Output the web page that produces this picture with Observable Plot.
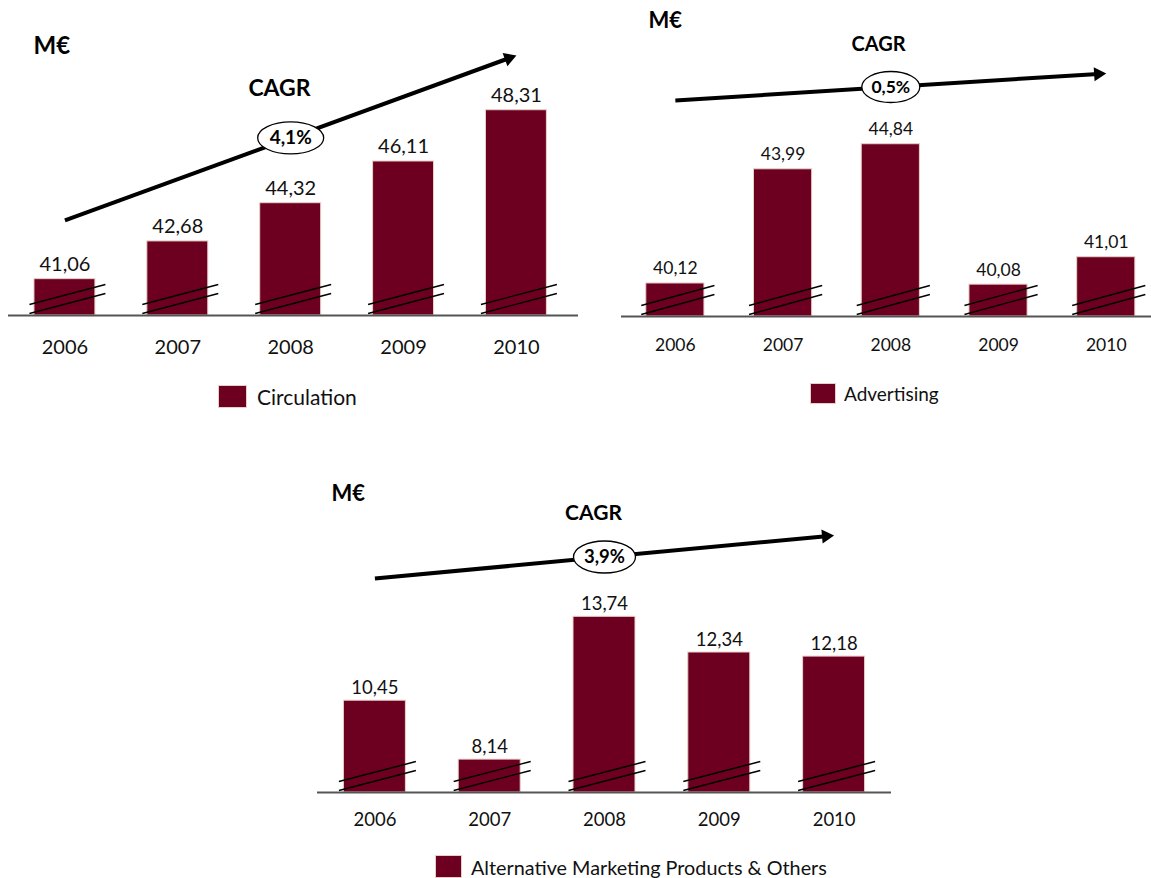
<!DOCTYPE html>
<html><head><meta charset="utf-8">
<script src="https://cdn.jsdelivr.net/npm/d3@7"></script>
<script src="https://cdn.jsdelivr.net/npm/@observablehq/plot@0.6"></script>
<style>
body{margin:0;background:#fff;font-family:Lato,sans-serif;}
#root{position:relative;width:1151px;height:878px;overflow:hidden;background:#fff;}
.chart{position:absolute;}
.legend{position:absolute;display:flex;align-items:center;color:#111;white-space:nowrap;}
.legend .sw{background:#6d0020;border:1px solid #e6cfc6;box-sizing:border-box;}
</style></head><body><div id="root"></div>
<script>
// ---- data ----
const years = [2006, 2007, 2008, 2009, 2010];
const circulation = [41.06, 42.68, 44.32, 46.11, 48.31];
const advertising = [40.12, 43.99, 44.84, 40.08, 41.01];
const alternative = [10.45, 8.14, 13.74, 12.34, 12.18];
const seriesNames = ["Circulation", "Advertising", "Alternative Marketing Products & Others"];
const cagrLabels = ["4,1%", "0,5%", "3,9%"];
const unitLabel = "M€";
const cagrTitle = "CAGR";

// ---- layout / style ----
const BAR = "#6d0020";
const fmt = v => d3.format(".2f")(v).replace(".", ",");

const charts = [
  {values: circulation, name: seriesNames[0], cagr: cagrLabels[0],
   left: 0, top: 0, width: 590, height: 370, ml: 8, mr: 12, mb: 55,
   xDomain: [2005.5, 2010.55], yDomain: [39.5, 39.5 + 315 / 23.3],
   arrowY: [43.58, 50.66], fs: 20, yearDy: 32, valDy: -8,
   unit: {fs: 24, dx: 25, dy: 36}, title: {fs: 23, dx: -14, dy: 88},
   pct: {fs: 19, rx: 33, ry: 16},
   legend: {left: 218, top: 385, w: 29, h: 23, fs: 21, gap: 10}},
  {values: advertising, name: seriesNames[1], cagr: cagrLabels[1],
   left: 600, top: 0, width: 551, height: 370, ml: 21, mr: 0, mb: 54,
   xDomain: [2005.5, 2010.42], yDomain: [39.0, 39.0 + 316 / 29.5],
   arrowY: [46.32, 47.24], fs: 17.5, yearDy: 29, valDy: -9,
   unit: {fs: 22, dx: 27, dy: 12}, title: {fs: 20, dx: -8, dy: 44},
   pct: {fs: 17.5, rx: 29, ry: 15.5},
   legend: {left: 810, top: 383, w: 26, h: 21, fs: 19, gap: 8}},
  {values: alternative, name: seriesNames[2], cagr: cagrLabels[2],
   left: 300, top: 470, width: 600, height: 370, ml: 17, mr: 9, mb: 48,
   xDomain: [2005.5, 2010.5], yDomain: [6.85, 6.85 + 322 / 25.5],
   arrowY: [15.24, 16.93], fs: 18.5, yearDy: 28, valDy: -7,
   unit: {fs: 22, dx: 14, dy: 15}, title: {fs: 21, dx: -11, dy: 43},
   pct: {fs: 18.5, rx: 31, ry: 16},
   legend: {left: 435, top: 855, w: 27, h: 23, fs: 19.8, gap: 9}}
];

function ellipseSymbol(rx, ry) {
  const k = 0.5523;
  return {draw(ctx) {
    ctx.moveTo(rx, 0);
    ctx.bezierCurveTo(rx, ry * k, rx * k, ry, 0, ry);
    ctx.bezierCurveTo(-rx * k, ry, -rx, ry * k, -rx, 0);
    ctx.bezierCurveTo(-rx, -ry * k, -rx * k, -ry, 0, -ry);
    ctx.bezierCurveTo(rx * k, -ry, rx, -ry * k, rx, 0);
    ctx.closePath();
  }};
}

const root = document.getElementById("root");

for (const c of charts) {
  const data = years.map((year, i) => ({year, value: c.values[i]}));
  const lo = c.yDomain[0];
  const base = c.height - c.mb;
  const xs = d3.scaleLinear(c.xDomain, [c.ml, c.width - c.mr]);
  const ys = d3.scaleLinear(c.yDomain, [base, 0]);
  const ppy = (c.width - c.mr - c.ml) / (c.xDomain[1] - c.xDomain[0]);
  const hw = 0.27;

  // break marks (two parallel slanted lines per bar)
  const breaks = years.flatMap(year => [[11, 31], [2, 22]].map(([a, b]) => ({
    x1: year - hw - 5 / ppy, x2: year + hw + 10 / ppy,
    y1: ys.invert(base - a), y2: ys.invert(base - b)
  })));

  // CAGR arrow
  const first = years[0], last = years[years.length - 1];
  const p0 = [xs(first), ys(c.arrowY[0])], p1 = [xs(last), ys(c.arrowY[1])];
  const L = Math.hypot(p1[0] - p0[0], p1[1] - p0[1]);
  const u = [(p1[0] - p0[0]) / L, (p1[1] - p0[1]) / L];
  const headR = 5.2;
  const hy = headR * Math.sqrt(Math.PI / (3 * Math.sqrt(3)));
  const hc = [p1[0] - u[0] * 2 * hy, p1[1] - u[1] * 2 * hy];
  const head = {x: xs.invert(hc[0]), y: ys.invert(hc[1])};
  const angle = Math.atan2(u[1], u[0]) * 180 / Math.PI + 90;
  const midYear = years[Math.floor(years.length / 2)];
  const mid = {x: midYear, y: c.arrowY[0] + (c.arrowY[1] - c.arrowY[0]) * (midYear - first) / (last - first)};

  const plot = Plot.plot({
    width: c.width, height: c.height,
    marginLeft: c.ml, marginRight: c.mr, marginTop: 0, marginBottom: c.mb,
    x: {domain: c.xDomain, axis: null},
    y: {domain: c.yDomain, axis: null},
    style: {fontFamily: "Lato, sans-serif", background: "transparent", overflow: "visible"},
    marks: [
      Plot.rectY(data, {x1: d => d.year - hw, x2: d => d.year + hw, y1: lo, y2: "value",
        fill: BAR, stroke: "#e8d2c8", strokeWidth: 1}),
      Plot.link(breaks, {x1: "x1", x2: "x2", y1: "y1", y2: "y2", stroke: "#000", strokeWidth: 1.4}),
      Plot.ruleY([lo], {stroke: "#555", strokeWidth: 2}),
      Plot.text(data, {x: "year", y: "value", text: d => fmt(d.value), lineAnchor: "bottom",
        dy: c.valDy, fontSize: c.fs, fill: "#111"}),
      Plot.text(data, {x: "year", text: d => String(d.year), frameAnchor: "bottom",
        lineAnchor: "middle", dy: c.yearDy, fontSize: c.fs, fill: "#111"}),
      Plot.link([{x1: first, y1: c.arrowY[0], x2: head.x, y2: head.y}],
        {x1: "x1", y1: "y1", x2: "x2", y2: "y2", stroke: "#000", strokeWidth: 4}),
      Plot.dot([head], {x: "x", y: "y", symbol: "triangle", r: headR, fill: "#000", stroke: "none", rotate: angle}),
      Plot.dot([mid], {x: "x", y: "y", r: 1, symbol: ellipseSymbol(c.pct.rx, c.pct.ry),
        fill: "#fff", stroke: "#000", strokeWidth: 1.3}),
      Plot.text([mid], {x: "x", y: "y", text: () => c.cagr, fontWeight: "bold",
        fontSize: c.pct.fs, fill: "#000", lineAnchor: "middle"}),
      Plot.text([unitLabel], {frameAnchor: "top-left", text: d => d, dx: c.unit.dx, dy: c.unit.dy,
        lineAnchor: "top", fontWeight: "bold", fontSize: c.unit.fs, fill: "#000"}),
      Plot.text([cagrTitle], {frameAnchor: "top", text: d => d, dx: c.title.dx, dy: c.title.dy,
        lineAnchor: "middle", fontWeight: "bold", fontSize: c.title.fs, fill: "#000"})
    ]
  });
  const div = document.createElement("div");
  div.className = "chart";
  div.style.left = c.left + "px";
  div.style.top = c.top + "px";
  div.style.width = c.width + "px";
  div.style.height = c.height + "px";
  div.appendChild(plot);
  root.appendChild(div);

  const lg = document.createElement("div");
  lg.className = "legend";
  lg.style.left = c.legend.left + "px";
  lg.style.top = c.legend.top + "px";
  lg.style.height = c.legend.h + "px";
  lg.style.fontSize = c.legend.fs + "px";
  const sw = document.createElement("span");
  sw.className = "sw";
  sw.style.width = c.legend.w + "px";
  sw.style.height = c.legend.h + "px";
  sw.style.marginRight = c.legend.gap + "px";
  const tx = document.createElement("span");
  tx.textContent = c.name;
  lg.appendChild(sw);
  lg.appendChild(tx);
  root.appendChild(lg);
}
</script></body></html>
